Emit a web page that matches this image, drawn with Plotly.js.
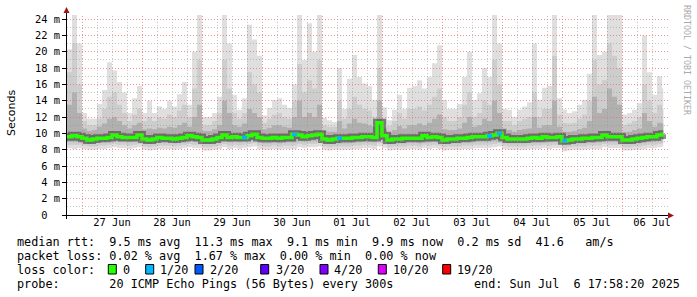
<!DOCTYPE html>
<html><head><meta charset="utf-8">
<script src="https://cdn.plot.ly/plotly-3.0.1.min.js"></script>
<style>html,body{margin:0;padding:0;background:#fff;overflow:hidden}#chart{width:697px;height:297px}</style>
</head><body><div id="chart"></div>
<script>
// ---- time grid (2-hour consolidated columns) ----
const SERIES_START = Date.UTC(2025, 5, 26, 18, 0, 0);
const STEP_MS = 2 * 3600 * 1000;
const DATA_END = Date.UTC(2025, 6, 6, 16, 30, 0);
const RANGE_START = Date.UTC(2025, 5, 26, 18, 0, 0);
const RANGE_END = Date.UTC(2025, 6, 6, 18, 0, 0);

// ---- smoke envelope values (ms) ----
const maxRtt = [20.3,24.5,21.0,12.5,11.8,11.8,13.6,15.3,18.7,17.7,
 16.3,15.0,12.5,14.3,15.8,12.5,14.0,12.5,13.3,13.0,
 14.0,13.3,14.8,16.3,13.5,20.0,24.5,12.0,12.0,12.5,
 14.5,24.5,21.0,14.7,12.9,14.3,23.3,21.5,19.5,12.2,
 13.1,14.1,14.3,13.5,13.1,16.0,24.5,19.0,23.5,20.0,
 24.5,11.9,11.6,11.4,18.0,13.0,16.7,19.6,16.9,16.1,
 15.8,14.1,24.5,13.2,11.6,12.9,14.7,13.0,15.6,15.8,
 16.5,15.5,16.9,18.6,20.8,14.1,13.0,13.0,13.6,16.9,
 20.0,14.1,14.9,18.0,16.9,24.5,21.0,13.0,12.9,12.0,
 12.9,13.3,13.8,21.0,14.1,15.6,15.8,24.5,14.3,12.9,
 12.5,12.7,13.5,14.1,17.3,24.5,19.6,20.0,24.5,24.5,
 24.5,12.3,12.5,12.9,13.7,22.0,17.5,14.7,17.0,15.5];
const upperMid = [17.5,21.0,16.0,11.5,11.0,11.0,11.8,13.0,14.5,15.0,
 13.5,12.5,11.5,12.3,13.0,11.5,12.0,11.5,12.0,11.8,
 12.3,12.0,12.8,13.5,12.0,15.5,19.0,11.0,11.0,11.5,
 12.5,19.0,15.5,12.5,11.8,12.5,17.5,16.0,15.0,11.3,
 11.8,12.3,12.5,12.0,11.8,14.0,18.5,15.0,16.5,15.5,
 19.0,11.0,10.8,10.8,14.0,11.8,13.0,14.5,13.5,13.0,
 12.8,12.0,18.0,11.8,10.9,11.5,12.5,11.8,13.0,13.0,
 13.3,12.8,13.5,14.5,15.5,12.0,11.5,11.5,12.0,13.5,
 15.0,12.0,12.5,14.0,13.5,19.0,16.0,11.5,11.5,11.0,
 11.5,11.8,12.0,15.0,12.0,13.0,13.0,19.5,12.3,11.3,
 11.2,11.3,11.8,12.3,14.0,19.0,16.0,16.5,21.0,19.5,
 18.0,11.0,11.2,11.5,12.0,16.0,14.0,12.5,13.5,13.0];
const upperDark = [13.5,15.0,12.5,10.6,10.3,10.4,10.8,11.2,11.8,12.0,
 11.5,11.0,10.6,11.0,11.3,10.5,10.6,10.5,10.7,10.6,
 10.8,10.7,11.0,11.3,10.8,12.0,13.5,10.3,10.3,10.5,
 11.0,14.0,12.5,11.0,10.8,11.2,13.0,12.5,12.0,10.5,
 10.7,11.0,11.0,10.8,10.7,12.0,14.0,12.0,12.5,12.0,
 13.5,10.3,10.2,10.2,11.5,10.6,11.2,11.8,11.3,11.2,
 11.0,10.8,14.0,10.6,10.1,10.4,10.9,10.6,11.0,11.0,
 11.2,11.0,11.3,11.8,12.3,10.5,10.4,10.4,10.6,11.3,
 12.0,10.8,11.0,11.8,11.5,14.0,12.5,10.6,10.4,10.2,
 10.4,10.5,10.6,12.0,10.7,11.0,11.0,14.0,10.8,10.2,
 10.2,10.3,10.5,10.7,11.5,14.5,12.5,13.0,15.5,14.5,
 13.5,10.1,10.2,10.4,10.6,12.5,11.5,10.8,11.3,11.2];
const lowLight = [8.2,8.1,8.2,8.1,8.0,8.0,8.1,8.1,8.2,8.3,
 8.2,8.2,8.1,8.2,8.3,8.0,7.9,8.0,8.1,8.1,
 8.1,8.0,8.1,8.2,8.3,8.2,8.2,7.9,7.9,8.0,
 8.1,8.3,8.1,8.2,8.1,8.2,8.3,8.4,8.1,8.0,
 8.0,8.1,8.0,8.1,8.1,8.1,8.3,8.2,8.3,8.3,
 8.4,8.0,7.9,8.0,8.0,8.0,8.0,8.1,8.1,8.2,
 8.2,8.1,8.4,8.2,7.9,8.0,8.0,8.0,8.1,8.1,
 8.0,8.2,8.1,8.2,8.1,7.9,8.0,8.0,8.0,8.1,
 8.1,8.2,8.2,8.2,8.2,8.3,8.4,8.1,8.0,8.0,
 8.0,8.0,8.1,8.1,8.1,8.2,8.1,8.2,8.2,7.8,
 7.9,8.0,8.0,8.0,8.1,8.1,8.1,8.3,8.2,8.2,
 8.2,7.9,7.9,8.0,8.0,8.1,8.2,8.2,8.3,8.4];
const lowMid = [8.6,8.6,8.6,8.5,8.4,8.4,8.5,8.5,8.6,8.7,
 8.6,8.6,8.5,8.6,8.7,8.4,8.3,8.4,8.5,8.5,
 8.5,8.4,8.5,8.6,8.7,8.6,8.6,8.3,8.3,8.4,
 8.5,8.7,8.5,8.6,8.5,8.6,8.7,8.8,8.5,8.4,
 8.4,8.5,8.4,8.5,8.5,8.5,8.7,8.6,8.7,8.7,
 8.8,8.4,8.3,8.4,8.4,8.4,8.4,8.5,8.5,8.6,
 8.6,8.5,8.8,8.6,8.3,8.4,8.4,8.4,8.5,8.5,
 8.4,8.6,8.5,8.6,8.5,8.3,8.4,8.4,8.4,8.5,
 8.5,8.6,8.6,8.6,8.6,8.7,8.8,8.5,8.4,8.4,
 8.4,8.4,8.5,8.5,8.5,8.6,8.5,8.6,8.6,8.2,
 8.3,8.4,8.4,8.4,8.5,8.5,8.5,8.7,8.6,8.6,
 8.6,8.3,8.3,8.4,8.4,8.5,8.6,8.6,8.7,8.8];
const lowDark = [9.0,9.0,9.0,8.9,8.7,8.8,8.9,8.9,9.0,9.1,
 9.0,9.0,8.9,9.0,9.1,8.8,8.7,8.8,8.9,8.9,
 8.9,8.8,8.9,9.0,9.1,9.0,9.0,8.7,8.7,8.8,
 8.9,9.1,8.9,9.0,8.9,9.0,9.1,9.2,8.9,8.8,
 8.8,8.9,8.8,8.9,8.9,8.9,9.1,9.0,9.1,9.1,
 9.2,8.8,8.7,8.8,8.8,8.8,8.8,8.9,8.9,9.0,
 9.0,8.9,9.2,9.0,8.7,8.8,8.8,8.8,8.9,8.9,
 8.8,9.0,8.9,9.0,8.9,8.7,8.8,8.8,8.8,8.9,
 8.9,9.0,9.0,9.0,9.0,9.1,9.2,8.9,8.8,8.8,
 8.8,8.8,8.9,8.9,8.9,9.0,8.9,9.0,9.0,8.6,
 8.7,8.8,8.8,8.8,8.9,8.9,8.9,9.1,9.0,9.0,
 9.0,8.7,8.7,8.8,8.8,8.9,9.0,9.0,9.1,9.2];
const medianRtt = [9.6,9.7,9.6,9.4,9.2,9.3,9.4,9.4,9.5,9.8,
 9.6,9.5,9.5,9.5,9.8,9.3,9.2,9.3,9.5,9.4,
 9.4,9.3,9.4,9.5,9.7,9.6,9.5,9.2,9.2,9.3,
 9.5,9.8,9.5,9.6,9.5,9.5,9.7,9.9,9.5,9.4,
 9.4,9.5,9.4,9.5,9.5,9.9,9.8,9.6,9.7,9.8,
 9.9,9.3,9.2,9.3,9.4,9.4,9.4,9.5,9.5,9.6,
 9.6,9.5,11.3,9.7,9.2,9.3,9.3,9.4,9.4,9.4,
 9.4,9.7,9.5,9.6,9.5,9.2,9.3,9.3,9.4,9.4,
 9.5,9.6,9.6,9.6,9.7,9.8,10.0,9.5,9.3,9.3,
 9.3,9.3,9.4,9.5,9.4,9.6,9.5,9.5,9.6,9.1,
 9.2,9.3,9.3,9.4,9.4,9.5,9.5,9.8,9.6,9.6,
 9.6,9.2,9.2,9.3,9.4,9.5,9.6,9.6,9.8,9.9];
const lossCount = [0,0,0,0,0,0,0,0,0,0, 0,0,0,0,0,0,0,0,0,0,
 0,0,0,0,0,0,0,0,0,0, 0,0,0,0,0,1,0,0,0,0,
 0,0,0,0,0,1,0,0,0,0, 0,0,0,0,1,0,0,0,0,0,
 0,0,0,0,0,0,0,0,0,0, 0,0,0,0,0,0,0,0,0,0,
 0,0,0,0,1,0,1,0,0,0, 0,0,0,0,0,0,0,0,0,1,
 0,0,0,0,0,0,0,0,0,0, 0,0,0,0,0,0,0,0,0,0];

// ---- axis ticks / legend texts ----
const yTickVals = [0,2,4,6,8,10,12,14,16,18,20,22,24];
const yTickText = ['0\u00a0\u00a0','2 m','4 m','6 m','8 m','10 m','12 m','14 m','16 m','18 m','20 m','22 m','24 m'];
const lossLabels = ['0','1/20','2/20','3/20','4/20','10/20','19/20'];
const lossLevels = [0,1,2,3,4,10,19];
const lossColors = ['#26ff00','#00b8ff','#0059ff','#5e00ff','#7e00ff','#dd00ff','#ff0000'];
const statLines = [
  'median rtt:  9.5 ms avg  11.3 ms max  9.1 ms min  9.9 ms now  0.2 ms sd  41.6   am/s',
  'packet loss: 0.02 % avg  1.67 % max  0.00 % min  0.00 % now'
];
const probeText = 'probe:       20 ICMP Echo Pings (56 Bytes) every 300s';
const endText = 'end: Sun Jul  6 17:58:20 2025';

// ---- layout geometry (pixels) ----
const PL = 67, PR = 667, PT = 15, PB = 215;
const legendBoxX = [108.3,145.7,195,260.7,320,378.3,442.7];
const legendTextX = [122,159,209,274.5,333,392,455.5];
const lineY = [241.5,255.5,269.5,283.5];

const nbsp = s => s.replace(/ /g, '\u00a0');
const PX = p => (p - PL) / (PR - PL);
const PY = p => (PB - p) / (PB - PT);

const N = medianRtt.length;
const edges = [];
for (let k = 0; k < N; k++) edges.push(SERIES_START + k * STEP_MS);
edges.push(DATA_END);
const stepY = a => a.concat([a[a.length - 1]]);

const traces = [];
function band(lo, hi, color) {
  traces.push({x: edges, y: stepY(lo), mode: 'lines', line: {width: 0, shape: 'hv'}, hoverinfo: 'skip', showlegend: false});
  traces.push({x: edges, y: stepY(hi), mode: 'lines', line: {width: 0, shape: 'hv'}, fill: 'tonexty', fillcolor: color, hoverinfo: 'skip', showlegend: false});
}
band(lowLight, maxRtt, '#dfdfdf');
band(lowMid, upperMid, '#cdcdcd');
band(lowDark, upperDark, '#b0b0b0');
traces.push({x: edges, y: stepY(medianRtt), mode: 'lines', line: {shape: 'hv', width: 8, color: 'rgba(40,40,40,0.5)'}, hoverinfo: 'skip', showlegend: false});
traces.push({x: edges, y: stepY(medianRtt), mode: 'lines', line: {shape: 'hv', width: 3.5, color: lossColors[0]}, hoverinfo: 'skip', showlegend: false});
function lossColor(v) { let c = lossColors[0]; lossLevels.forEach((l, i) => { if (v >= l) c = lossColors[i]; }); return c; }
const segs = {};
for (let k = 0; k < N; k++) {
  if (lossCount[k] > 0) {
    const c = lossColor(lossCount[k]);
    segs[c] = segs[c] || {x: [], y: []};
    segs[c].x.push(edges[k], edges[k + 1], null);
    segs[c].y.push(medianRtt[k], medianRtt[k], null);
  }
}
Object.keys(segs).forEach(c => traces.push({x: segs[c].x, y: segs[c].y, mode: 'lines', line: {width: 3.5, color: c}, connectgaps: false, hoverinfo: 'skip', showlegend: false}));

// ---- grid and axes as shapes above the smoke ----
const shapes = [];
const yScale = (PB - PT) / 24.5;
for (let v = 1; v <= 24; v++) {
  const py = Math.floor(PB - v * yScale) + 0.5;
  shapes.push({type: 'line', xref: 'paper', yref: 'paper', x0: 0, x1: PX(668), y0: PY(py), y1: PY(py), layer: 'above',
    line: {width: 1, dash: '1px,2px', color: v % 2 === 0 ? 'rgba(235,110,110,0.75)' : 'rgba(150,150,150,0.55)'}});
}
const H6 = 6 * 3600 * 1000;
for (let t = RANGE_START + H6; t < RANGE_END; t += H6) {
  const px = Math.floor(PL + (t - RANGE_START) / (RANGE_END - RANGE_START) * (PR - PL)) + 0.5;
  const major = new Date(t).getUTCHours() === 0;
  shapes.push({type: 'line', xref: 'paper', yref: 'paper', x0: PX(px), x1: PX(px), y0: 0, y1: 1, layer: 'above',
    line: {width: 1, dash: '1px,2px', color: major ? 'rgba(235,110,110,0.75)' : 'rgba(150,150,150,0.55)'}});
}
// axes
shapes.push({type: 'line', xref: 'paper', yref: 'paper', x0: PX(62), x1: PX(669), y0: PY(215.5), y1: PY(215.5), layer: 'above', line: {width: 1, color: '#000'}});
shapes.push({type: 'line', xref: 'paper', yref: 'paper', x0: PX(66.5), x1: PX(66.5), y0: PY(219), y1: PY(12), layer: 'above', line: {width: 1, color: '#000'}});
shapes.push({type: 'path', xref: 'paper', yref: 'paper', layer: 'above', fillcolor: '#9a1515', line: {width: 0},
  path: `M ${PX(674)} ${PY(215.5)} L ${PX(668)} ${PY(212.5)} L ${PX(668)} ${PY(218.5)} Z`});
shapes.push({type: 'path', xref: 'paper', yref: 'paper', layer: 'above', fillcolor: '#9a1515', line: {width: 0},
  path: `M ${PX(66.5)} ${PY(7)} L ${PX(63.5)} ${PY(13)} L ${PX(69.5)} ${PY(13)} Z`});
// legend boxes
legendBoxX.forEach((bx, i) => shapes.push({type: 'rect', xref: 'paper', yref: 'paper', layer: 'above',
  x0: PX(bx), x1: PX(bx + 8), y0: PY(274), y1: PY(264.5), fillcolor: lossColors[i], line: {width: 1, color: '#000'}}));

// ---- text ----
const MONO = 'DejaVu Sans Mono';
const txtFont = {family: MONO, size: 11.8, color: '#000'};
const annotations = [];
const ann = (x, y, text, opts) => annotations.push(Object.assign({xref: 'paper', yref: 'paper', x: PX(x), y: PY(y), text: nbsp(text), showarrow: false,
  xanchor: 'left', yanchor: 'middle', borderpad: 0, font: txtFont}, opts || {}));
ann(16, lineY[0], statLines[0]);
ann(16, lineY[1], statLines[1]);
ann(16, lineY[2], 'loss color:');
lossLabels.forEach((l, i) => ann(legendTextX[i], lineY[2], l));
ann(16, lineY[3], probeText);
ann(680.5, lineY[3], endText, {xanchor: 'right'});
ann(11, 113, 'Seconds', {xanchor: 'center', textangle: -90, font: {family: 'DejaVu Sans', size: 11, color: '#000'}});
ann(687, 60, 'RRDTOOL / TOBI OETIKER', {xanchor: 'center', textangle: 90, font: {family: MONO, size: 8.3, color: '#aaaaaa'}});

const layout = {
  width: 697, height: 297,
  margin: {l: PL, r: 697 - PR, t: PT, b: 297 - PB, pad: 0},
  paper_bgcolor: '#fff', plot_bgcolor: '#fff',
  showlegend: false,
  font: {family: MONO, size: 10.4, color: '#000'},
  xaxis: {type: 'date', range: [RANGE_START, RANGE_END], tickmode: 'linear', tick0: Date.UTC(2025, 5, 27), dtick: 86400000,
    ticklabelmode: 'period', tickformat: '%d %b', showgrid: false, zeroline: false, showline: false, ticks: '',
    tickfont: {family: MONO, size: 10.4, color: '#000'}, fixedrange: true},
  yaxis: {range: [0, 24.5], tickmode: 'array', tickvals: yTickVals, ticktext: yTickText, ticks: 'outside', ticklen: 4, tickcolor: '#000',
    showgrid: false, zeroline: false, showline: false, tickfont: {family: MONO, size: 10.4, color: '#000'}, fixedrange: true},
  shapes: shapes,
  annotations: annotations
};
Plotly.newPlot('chart', traces, layout, {staticPlot: true, displayModeBar: false});
</script>
</body></html>
